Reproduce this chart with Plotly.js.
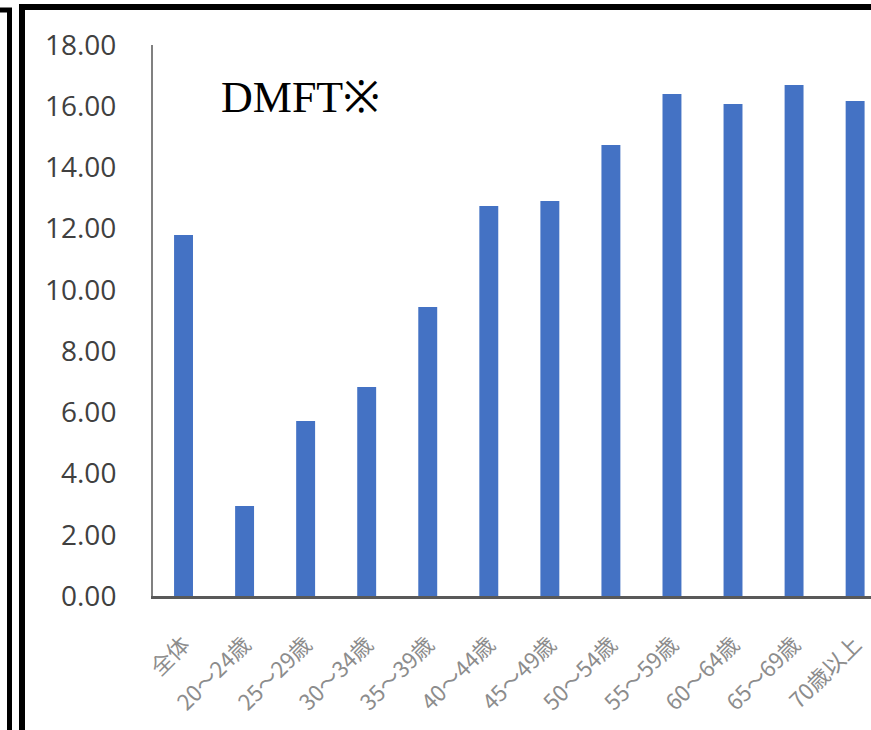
<!DOCTYPE html>
<html>
<head>
<meta charset="utf-8">
<script src="https://cdn.plot.ly/plotly-3.0.1.min.js"></script>
<style>
html,body{margin:0;padding:0;background:#fff;overflow:hidden;}
#chart{width:871px;height:730px;}
</style>
</head>
<body>
<div id="chart"></div>
<script>
const categories = ["全体","20～24歳","25～29歳","30～34歳","35～39歳","40～44歳","45～49歳","50～54歳","55～59歳","60～64歳","65～69歳","70歳以上"];
const dmftValues = [11.79, 2.94, 5.72, 6.83, 9.44, 12.74, 12.90, 14.73, 16.40, 16.07, 16.69, 16.17];
const yTickVals = [0,2,4,6,8,10,12,14,16,18];
const yTickText = ["0.00","2.00","4.00","6.00","8.00","10.00","12.00","14.00","16.00","18.00"];
const chartLabel = "DMFT※";

// plot area geometry (px) used to convert decoration positions to paper coords
const L = 153, T = 45, W = 718, H = 551;
const px = x => (x - L) / W;
const py = y => (T + H - y) / H;

const trace = {
  type: 'bar',
  x: categories,
  y: dmftValues,
  marker: {color: '#4472C4', line: {width: 0}},
  hoverinfo: 'x+y'
};

const layout = {
  width: 871, height: 730,
  margin: {l: L, r: 0, t: T, b: 730 - T - H, pad: 0},
  paper_bgcolor: '#ffffff',
  plot_bgcolor: '#ffffff',
  showlegend: false,
  bargap: 0.69,
  xaxis: {
    type: 'category',
    range: [-0.5, 11.26],
    showgrid: false,
    zeroline: false,
    showline: true,
    linecolor: '#595959',
    linewidth: 3,
    ticks: '',
    tickangle: -45,
    ticklabelstandoff: 24,
    tickfont: {family: '"Noto Sans CJK JP", "Noto Sans", sans-serif', size: 22, color: '#8c8c8c'},
    fixedrange: true
  },
  yaxis: {
    range: [0, 18],
    tickvals: yTickVals,
    ticktext: yTickText,
    showgrid: false,
    zeroline: false,
    showline: true,
    linecolor: '#808080',
    linewidth: 2,
    ticks: '',
    ticklabelstandoff: 29,
    tickfont: {family: '"Open Sans", "Noto Sans", sans-serif', size: 28, color: '#404040'},
    fixedrange: true
  },
  annotations: [{
    xref: 'paper', yref: 'paper',
    x: px(300), y: py(98),
    xanchor: 'center', yanchor: 'middle',
    text: chartLabel,
    showarrow: false,
    font: {family: '"Liberation Serif", "DejaVu Serif", serif', size: 44, color: '#000000'}
  }],
  shapes: [
    {type: 'path', xref: 'paper', yref: 'paper',
     path: `M ${px(22)},${py(760)} L ${px(22)},${py(7)} L ${px(900)},${py(7)}`,
     line: {color: '#000000', width: 6}},
    {type: 'path', xref: 'paper', yref: 'paper',
     path: `M ${px(-10)},${py(10)} L ${px(9.5)},${py(10)} L ${px(9.5)},${py(760)}`,
     line: {color: '#000000', width: 5}}
  ]
};

Plotly.newPlot('chart', [trace], layout, {displayModeBar: false, staticPlot: true});
</script>
</body>
</html>
